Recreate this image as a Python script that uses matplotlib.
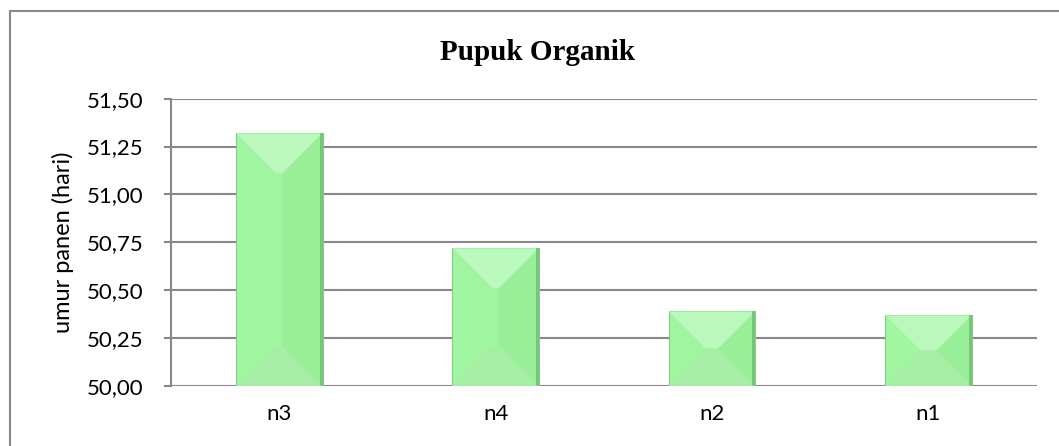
import matplotlib
matplotlib.use("Agg")
import matplotlib.pyplot as plt
from matplotlib.patches import Rectangle, Polygon
from matplotlib.ticker import FixedLocator, FuncFormatter

# data
categories = ["n3", "n4", "n2", "n1"]
umur_panen = [51.32, 50.72, 50.39, 50.37]
y_ticks = [50.00, 50.25, 50.50, 50.75, 51.00, 51.25, 51.50]

fig = plt.figure(figsize=(10.59, 4.46), dpi=100)
ax = fig.add_axes([0.1615, 0.1345, 0.8175, 0.6442])

grid_col = "#888888"
bars = ax.bar(range(len(categories)), [v - 50 for v in umur_panen], bottom=50,
              width=0.4, color="#a0f5a0", edgecolor="#84cc84", linewidth=0.8, zorder=3)

ax.set_xlim(-0.5, len(categories) - 0.5)
ax.set_ylim(50, 51.5)

# bevel look, worked out in pixels from each bar once the limits are fixed
inv = ax.transData.inverted()
for b in bars:
    x0, y0 = b.get_x(), b.get_y()
    w, h = b.get_width(), b.get_height()
    (px0, py0) = ax.transData.transform((x0, y0))
    (px1, py1) = ax.transData.transform((x0 + w, y0 + h))
    half = (px1 - px0) / 2
    d = min(half, (py1 - py0) / 2, 40)

    def P(x, y):
        return inv.transform((x, y))

    # top light wedge
    ax.add_patch(Polygon([P(px0, py1), P(px1, py1), P(px1 - d, py1 - d), P(px0 + d, py1 - d)],
                         closed=True, facecolor="#c2f9c2", edgecolor="none", zorder=4, alpha=0.8))
    # bottom wedge
    ax.add_patch(Polygon([P(px0, py0), P(px1, py0), P(px1 - d, py0 + d), P(px0 + d, py0 + d)],
                         closed=True, facecolor="#a8eca8", edgecolor="none", zorder=4, alpha=0.8))
    # right side slightly darker
    ax.add_patch(Polygon([P(px1, py1), P(px1, py0), P(px1 - d, py0 + d), P(px1 - d, py1 - d)],
                         closed=True, facecolor="#94ec94", edgecolor="none", zorder=4, alpha=0.6))
    # thin dark right rim
    ax.add_patch(Polygon([P(px1 - 3, py1), P(px1, py1), P(px1, py0), P(px1 - 3, py0)],
                         closed=True, facecolor="#78c478", edgecolor="none", zorder=5))

ax.yaxis.set_major_locator(FixedLocator(y_ticks))
ax.yaxis.set_major_formatter(FuncFormatter(lambda v, p: f"{v:.2f}".replace(".", ",")))
ax.set_xticks(range(len(categories)))
ax.set_xticklabels(categories)

ax.grid(axis="y", color=grid_col, linewidth=1.5, zorder=0)
for s in ["top", "right", "bottom"]:
    ax.spines[s].set_visible(False)
ax.spines["left"].set_color(grid_col)
ax.spines["left"].set_linewidth(1.5)

tick_font = "Lato"
ax.tick_params(axis="y", length=5, width=1.5, color=grid_col, pad=15, labelsize=16)
ax.tick_params(axis="x", length=0, pad=13, labelsize=16)
for lab in ax.get_xticklabels() + ax.get_yticklabels():
    lab.set_family(tick_font)

ax.set_ylabel("umur panen (hari)", fontsize=17, family=tick_font)
ax.yaxis.set_label_coords(-0.112, 0.5)

fig.text(0.508, 0.883, "Pupuk Organik", ha="center", va="center",
         fontsize=21, fontweight="bold", family="Liberation Serif")

# outer chart frame
fig.patches.append(Rectangle((10 / 1059, -0.1), 1.2, (435 / 446) + 0.1,
                             transform=fig.transFigure, fill=False,
                             edgecolor=grid_col, linewidth=1.5))

fig.savefig("out.png", dpi=100, facecolor="white")
